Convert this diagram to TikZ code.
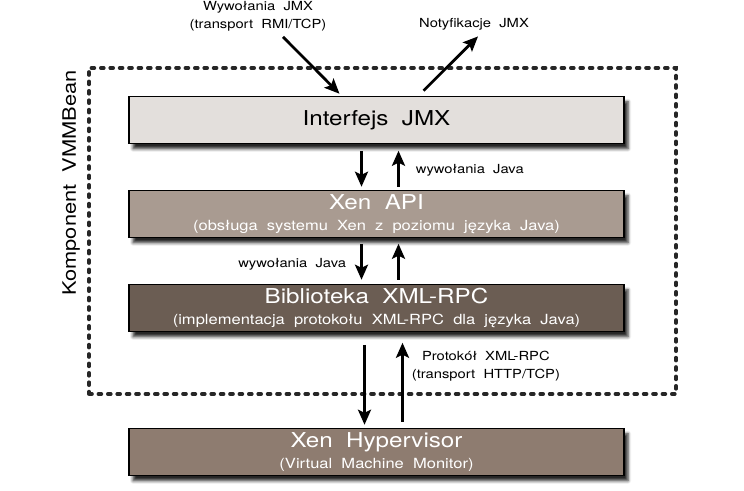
\documentclass[tikz,border=0pt]{standalone}
\usepackage{fontspec}
\setmainfont{TeX Gyre Heros}[FakeStretch=1.18, WordSpace=2]
\usepackage{tikz}
\usetikzlibrary{arrows.meta, positioning, shadows.blur}
\definecolor{jmxgray}{HTML}{E3DFDC}
\definecolor{apibrown}{HTML}{A99B91}
\definecolor{rpcbrown}{HTML}{6B5D53}
\definecolor{hypbrown}{HTML}{8E7C70}
\newcommand{\layertitle}{\fontsize{20.5}{21}\selectfont}
\newcommand{\layersub}{\fontsize{14}{21}\selectfont}
\newcommand{\notesize}{\fontsize{12.5}{18.3}\selectfont}
\tikzset{
  layer/.style={
    rectangle, minimum width=495pt, minimum height=47pt, outer sep=0pt,
    align=center, draw=black, line width=1.2pt, text=white, font=\layersub,
    blur shadow={shadow xshift=4pt,shadow yshift=-5pt,shadow blur radius=3pt,shadow opacity=85}
  },
  frame/.style={
    rectangle, draw=black!85, line width=3.6pt, line cap=round,
    dash pattern=on 3pt off 6.4pt, minimum width=587pt, minimum height=326pt
  },
  note/.style={
    inner sep=0pt, font=\notesize, text=black
  }
}

\begin{document}
\begin{tikzpicture}[x=1pt, y=-1pt,
  node distance=47pt,
  arrow/.style={-{Stealth[length=15pt,width=13pt,inset=3pt]}, line width=2.7pt}
]
\useasboundingbox (0,0) rectangle (744,490);

\node[frame] (vmmbean) at (382.5,231) {};
\node[note, rotate=90, anchor=south, font=\fontsize{18.5}{20}\selectfont] (vmmbean_label)
  at ([xshift=-7pt,yshift=48pt]vmmbean.west) {Komponent VMMBean};

\node[layer, fill=jmxgray, text=black, font=\layertitle] (jmx) at (376.5,120.25) {Interfejs JMX};
\node[layer, fill=apibrown, below=of jmx] (xen_api) {{\layertitle Xen API}\\(obsługa systemu Xen z poziomu języka Java)};
\node[layer, fill=rpcbrown, below=of xen_api] (xmlrpc) {{\layertitle Biblioteka XML-RPC}\\(implementacja protokołu XML-RPC dla języka Java)};
\node[layer, fill=hypbrown, below=97pt of xmlrpc] (hypervisor) {{\layertitle Xen Hypervisor}\\(Virtual Machine Monitor)};

% wejscie i wyjscie JMX
\node[note, align=center] (jmx_calls) at (258,16.6) {Wywołania JMX\\(transport RMI/TCP)};
\node[note, anchor=base] (jmx_notify) at (474,27.5) {Notyfikacje JMX};

\draw[arrow] ([xshift=25pt,yshift=-5pt]jmx_calls.south) -- ([xshift=-37pt,yshift=3pt]jmx.north);
\draw[arrow] ([xshift=47pt,yshift=6pt]jmx.north) -- ([xshift=4pt,yshift=-6pt]jmx_notify.south);

% wywolania miedzy warstwami
\draw[arrow] ([xshift=-15pt,yshift=-7pt]jmx.south) -- ([xshift=-15pt,yshift=4pt]xen_api.north);
\draw[arrow] ([xshift=22pt,yshift=4pt]xen_api.north) -- node[note, pos=0.45, right=16pt] (java_calls_a) {wywołania Java} ([xshift=22pt,yshift=-7pt]jmx.south);

\draw[arrow] ([xshift=-15pt,yshift=-6pt]xen_api.south) -- node[note, pos=0.58, left=14pt] (java_calls_b) {wywołania Java} ([xshift=-15pt,yshift=5pt]xmlrpc.north);
\draw[arrow] ([xshift=22pt,yshift=5pt]xmlrpc.north) -- ([xshift=22pt,yshift=-6pt]xen_api.south);

\draw[arrow] ([xshift=-12pt,yshift=-13pt]xmlrpc.south) -- ([xshift=-12pt,yshift=4pt]hypervisor.north);
\draw[arrow] ([xshift=26pt,yshift=7pt]hypervisor.north) -- node[note, pos=0.7, right=8pt, align=center] (rpc_protocol) {Protokół XML-RPC\\(transport HTTP/TCP)} ([xshift=26pt,yshift=-11pt]xmlrpc.south);

\end{tikzpicture}
\end{document}
